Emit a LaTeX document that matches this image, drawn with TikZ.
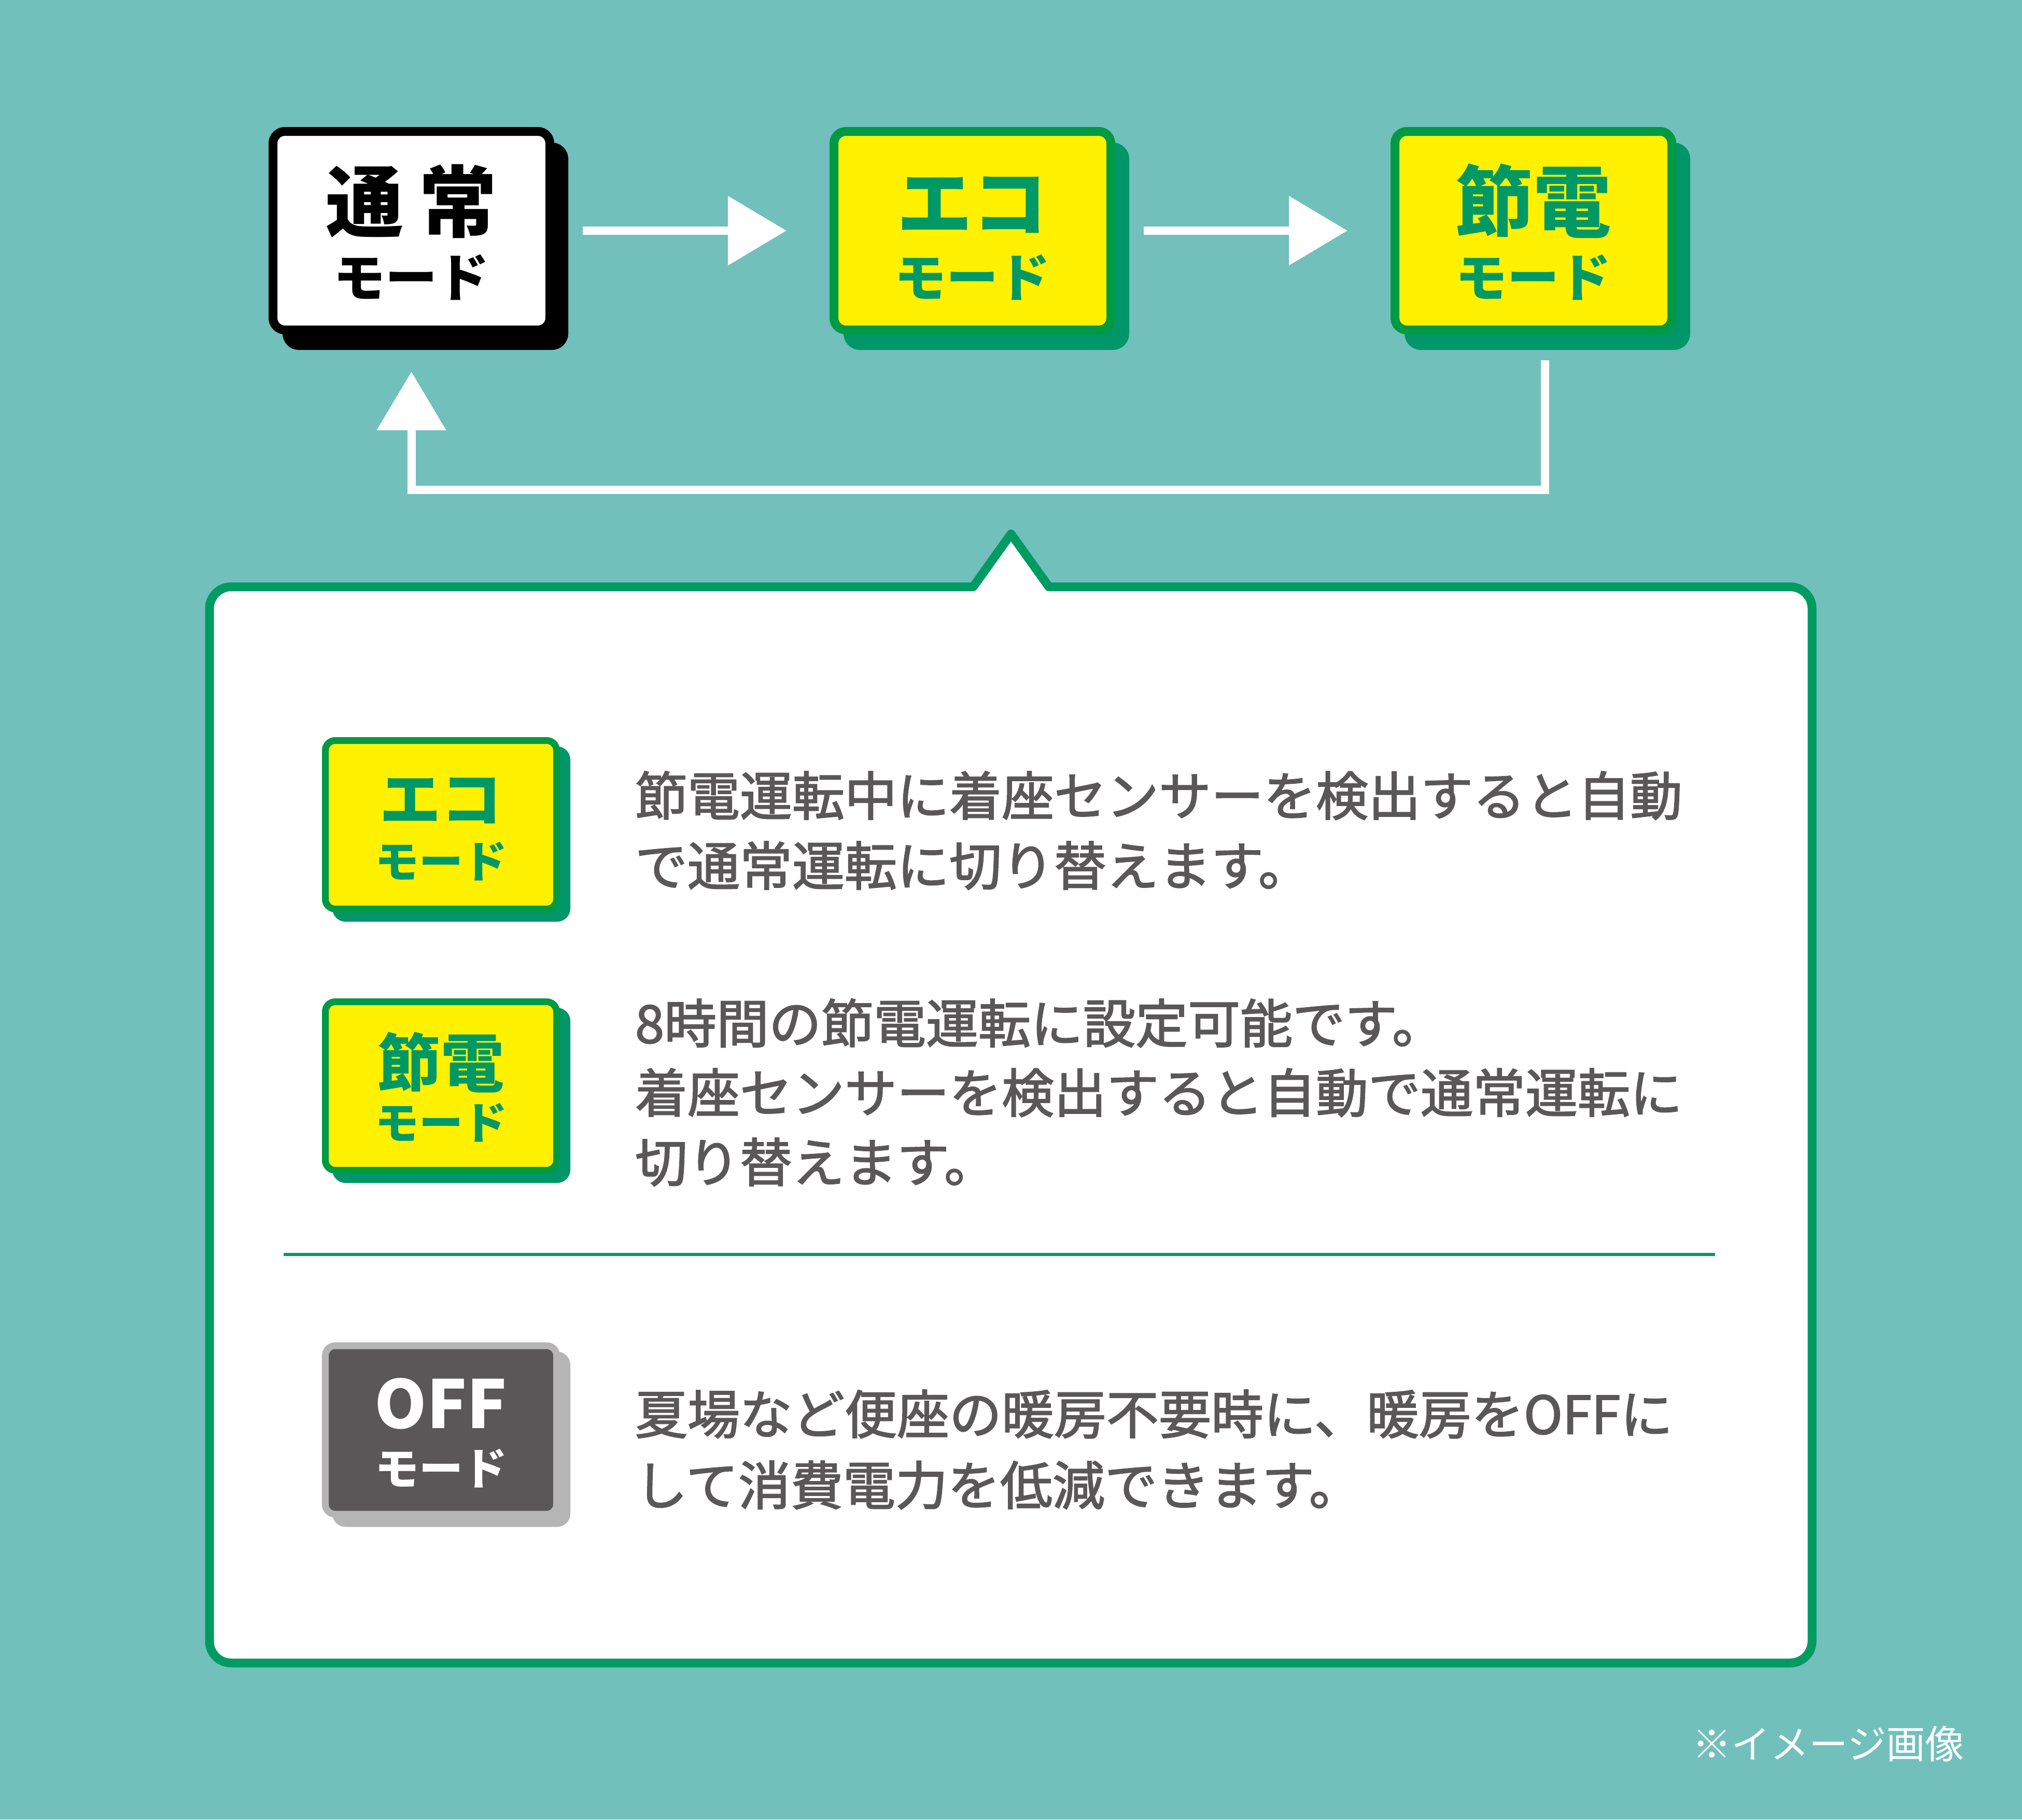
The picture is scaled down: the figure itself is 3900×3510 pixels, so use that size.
\documentclass[tikz,border=0pt]{standalone}
\usepackage{fontspec}
\setmainfont{Noto Sans CJK JP}
\newfontfamily\jpbody{Noto Sans CJK JP}[FakeBold=2]
\usetikzlibrary{arrows.meta}
\definecolor{bgteal}{HTML}{71C0BC}
\definecolor{gborder}{HTML}{009944}
\definecolor{gshadow}{HTML}{00966A}
\definecolor{gtext}{HTML}{009966}
\definecolor{gcallout}{HTML}{009B63}
\definecolor{yel}{HTML}{FFF100}
\definecolor{txtgray}{HTML}{595757}
\definecolor{offin}{HTML}{595757}
\definecolor{offout}{HTML}{B5B5B6}
\tikzset{
  topmode/.style n args={3}{rectangle, draw=#1, fill=#2, rounded corners=4.6pt,
    line width=3.4pt, minimum width=106.8pt, minimum height=76.6pt, inner sep=0pt,
    preaction={draw=#3, fill=#3, transform canvas={xshift=5.4pt, yshift=-6pt}}},
  smallmode/.style n args={3}{rectangle, draw=#1, fill=#2, rounded corners=3.8pt,
    line width=2.6pt, minimum width=89.2pt, minimum height=65pt, inner sep=0pt,
    preaction={draw=#3, fill=#3, transform canvas={xshift=4pt, yshift=-3.6pt}}},
  lbl/.style={inner sep=0pt, anchor=base},
  bodyline/.style={inner sep=0pt, anchor=base west, text=txtgray,
    font=\jpbody\fontsize{20.2pt}{20.2pt}\selectfont},
  arr/.style={draw=white, line width=3.2pt, -{Triangle[length=22.6pt, width=26pt]}},
  callout/.style={draw=gcallout, fill=white, line width=3.4pt, line join=round},
  divider/.style={draw=gcallout, line width=1.2pt},
}
\begin{document}
\begin{tikzpicture}[x=0.2pt, y=-0.2pt]
\fill[bgteal] (0,0) rectangle (3900,3510);
\useasboundingbox (0,0) rectangle (3900,3510);

% top mode boxes
\node[topmode={black}{white}{black}] (normal) at (793.5,445) {};
\node[topmode={gborder}{yel}{gshadow}] (eco) at (1875.5,445) {};
\node[topmode={gborder}{yel}{gshadow}] (setsuden) at (2957.5,445) {};

\node[lbl, text=black, font=\bfseries\fontsize{30pt}{30pt}\selectfont] (normal-t) at (793.5,445) {通\hspace{6pt}常};
\node[lbl, text=black, font=\bfseries\fontsize{20pt}{20pt}\selectfont] (normal-m) at (793.5,572) {モード};
\node[lbl, text=gtext, font=\bfseries\fontsize{29pt}{29pt}\selectfont] (eco-t) at (1875.5,445) {エコ};
\node[lbl, text=gtext, font=\bfseries\fontsize{20pt}{20pt}\selectfont] (eco-m) at (1875.5,572) {モード};
\node[lbl, text=gtext, font=\bfseries\fontsize{30pt}{30pt}\selectfont] (setsuden-t) at (2957.5,445) {節電};
\node[lbl, text=gtext, font=\bfseries\fontsize{20pt}{20pt}\selectfont] (setsuden-m) at (2957.5,572) {モード};

% arrows
\draw[arr, shorten <=11pt, shorten >=16.6pt] (normal.east) -- (eco.west);
\draw[arr, shorten <=11pt, shorten >=16.6pt] (eco.east) -- (setsuden.west);
\coordinate (ret) at (2980,945);
\draw[arr, shorten <=10pt, shorten >=14.4pt] (ret |- setsuden.south) -- (ret) -| (normal.south);

% callout panel
\draw[callout] (1000,1132) -- (1877,1132) -- (1950,1030) -- (2023,1132) -- (2500,1132)
  [rounded corners=8.4pt] -- (3495,1132) -- (3495,3208) -- (404,3208) -- (404,1132) -- cycle;
\draw[divider] (547,2420) -- (3308,2420);

% small mode boxes
\node[smallmode={gborder}{yel}{gshadow}] (eco-s) at (850.5,1591) {};
\node[smallmode={gborder}{yel}{gshadow}] (setsuden-s) at (850.5,2095) {};
\node[smallmode={offout}{offin}{offout}] (off-s) at (850.5,2758.5) {};

\node[lbl, text=gtext, font=\bfseries\fontsize{23.6pt}{23.6pt}\selectfont] (eco-s-t) at (850.5,1585) {エコ};
\node[lbl, text=gtext, font=\bfseries\fontsize{17pt}{17pt}\selectfont] (eco-s-m) at (850.5,1693) {モード};
\node[lbl, text=gtext, font=\bfseries\fontsize{24.4pt}{24.4pt}\selectfont] (setsuden-s-t) at (850.5,2096) {節電};
\node[lbl, text=gtext, font=\bfseries\fontsize{17pt}{17pt}\selectfont] (setsuden-s-m) at (850.5,2197) {モード};
\node[lbl, text=white, font=\bfseries\fontsize{25.6pt}{25.6pt}\selectfont] (off-s-t) at (850.5,2755) {OFF};
\node[lbl, text=white, font=\bfseries\fontsize{17pt}{17pt}\selectfont] (off-s-m) at (850.5,2864) {モード};

% descriptions
\node[bodyline] (p1a) at (1224,1573) {節電運転中に着座センサーを検出すると自動};
\node[bodyline] (p1b) at (1224,1708) {で通常運転に切り替えます。};
\node[bodyline] (p2a) at (1224,2012) {8時間の節電運転に設定可能です。};
\node[bodyline] (p2b) at (1224,2146) {着座センサーを検出すると自動で通常運転に};
\node[bodyline] (p2c) at (1224,2280) {切り替えます。};
\node[bodyline] (p3a) at (1224,2766) {夏場など便座の暖房不要時に、暖房をOFFに};
\node[bodyline] (p3b) at (1224,2903) {して消費電力を低減できます。};

% note
\node[inner sep=0pt, anchor=base east, text=white, font=\fontsize{15pt}{15pt}\selectfont] (note) at (3789,3392) {※イメージ画像};
\end{tikzpicture}
\end{document}
